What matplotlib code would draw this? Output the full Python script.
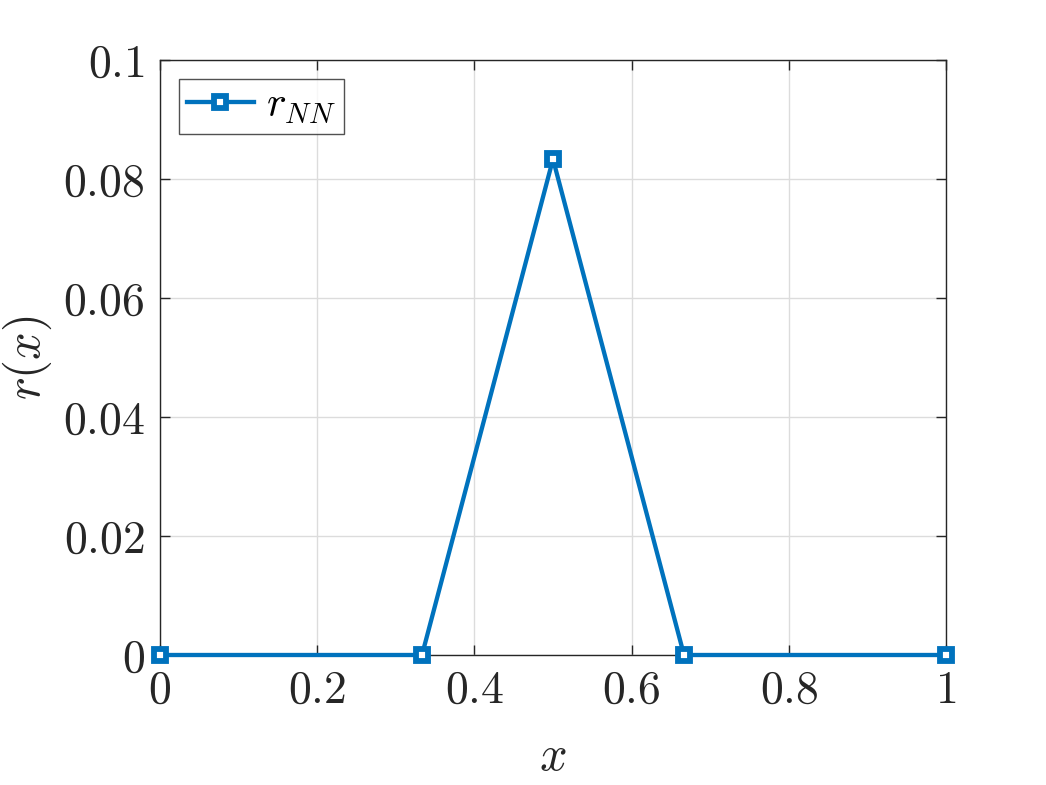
import numpy as np
import matplotlib
matplotlib.use('Agg')
import matplotlib.pyplot as plt

# LaTeX-ish look like a MATLAB export
plt.rcParams['mathtext.fontset'] = 'cm'
plt.rcParams['font.family'] = 'serif'
plt.rcParams['font.serif'] = ['cmr10', 'DejaVu Serif']
plt.rcParams['axes.formatter.use_mathtext'] = True

# nodes and values
x_nodes = [0, 1/3, 1/2, 2/3, 1]
r_nn = [0, 0, 1/12, 0, 0]

x_ticks = [0, 0.2, 0.4, 0.6, 0.8, 1]
x_labels = ['$0$', '$0.2$', '$0.4$', '$0.6$', '$0.8$', '$1$']
y_ticks = [0, 0.02, 0.04, 0.06, 0.08, 0.1]
y_labels = ['$0$', '$0.02$', '$0.04$', '$0.06$', '$0.08$', '$0.1$']

blue = '#0072BD'
dark = '#262626'

fig = plt.figure(figsize=(10.46, 7.85), dpi=100)
ax = fig.add_axes([160/1046, 1 - 655/785, (946-160)/1046, (655-60)/785])

ax.plot(x_nodes, r_nn, '-s', color=blue, lw=3.1, ms=8, mew=4.2,
        mfc='white', mec=blue, label='$r_{NN}$', clip_on=False, zorder=3)

ax.set_xlim(0, 1)
ax.set_ylim(0, 0.1)
ax.set_xticks(x_ticks)
ax.set_xticklabels(x_labels)
ax.set_yticks(y_ticks)
ax.set_yticklabels(y_labels)

ax.grid(True, color='#dcdcdc', lw=1)
ax.set_axisbelow(True)
ax.tick_params(direction='in', length=7, width=1, colors=dark, labelsize=33,
               top=True, right=True, pad=11)
for s in ax.spines.values():
    s.set_color(dark)
    s.set_linewidth(1)

ax.set_xlabel('$x$', fontsize=35, color=dark, labelpad=17)
ax.set_ylabel('$r(x)$', fontsize=35, color=dark, labelpad=6)

leg = ax.legend(loc='upper left', fontsize=30, frameon=True, fancybox=False,
                edgecolor=dark, handlelength=1.6, borderpad=0.2,
                handletextpad=0.3, borderaxespad=0.45)
leg.get_frame().set_linewidth(1)

fig.savefig('out.png', dpi=100)
